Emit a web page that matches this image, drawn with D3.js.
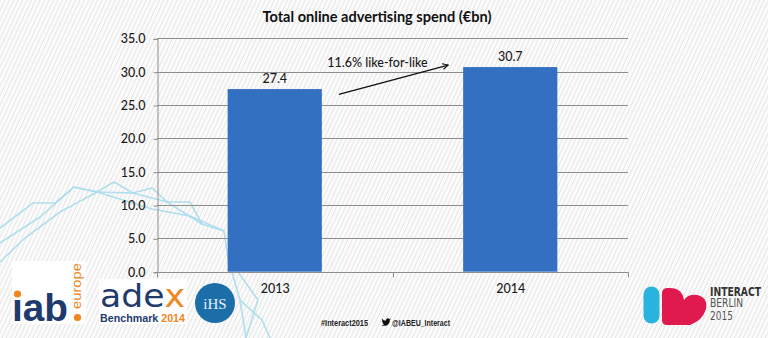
<!DOCTYPE html>
<html>
<head>
<meta charset="utf-8">
<script src="https://cdn.jsdelivr.net/npm/d3@7"></script>
<style>
  html, body { margin: 0; padding: 0; background: #fafafa; }
  svg { display: block; }
</style>
</head>
<body>
<svg id="chart" width="768" height="338"></svg>
<script>
// ---- data ----
const categories = ["2013", "2014"];
const values = [27.4, 30.7];
const yTicks = [0, 5, 10, 15, 20, 25, 30, 35];
const yTickLabels = ["0.0", "5.0", "10.0", "15.0", "20.0", "25.0", "30.0", "35.0"];
const title = "Total online advertising spend (€bn)";
const annotationText = "11.6% like-for-like";
const arrowValues = [26.6, 31.0];
const footerTexts = ["#Interact2015", "@IABEU_Interact"];

// ---- layout ----
const W = 768, H = 338;
const plot = { left: 157, right: 628, top: 38.4, bottom: 271.7 };
const svg = d3.select("#chart");
const FONT = "Lato, 'Open Sans', sans-serif";

// background hatch
const defs = svg.append("defs");
const pat = defs.append("pattern")
  .attr("id", "hatch").attr("patternUnits", "userSpaceOnUse")
  .attr("width", 4).attr("height", 4)
  .attr("patternTransform", "rotate(25)");
pat.append("rect").attr("width", 4).attr("height", 4).attr("fill", "#fbfbfb");
pat.append("line").attr("x1", 0.5).attr("y1", 0).attr("x2", 0.5).attr("y2", 4)
  .attr("stroke", "#e6e6e6").attr("stroke-width", 1);
svg.append("rect").attr("width", W).attr("height", H).attr("fill", "url(#hatch)");

// decorative cyan mesh lines
const deco = [
  [[0,228],[33,203],[55,203],[74,187],[97,192],[114,182],[133,193],[152,188],[167,202],[190,202],[202,224],[224,231],[228,258],[240,300],[246,338]],
  [[0,243],[40,217],[74,187],[97,192],[152,209],[190,216],[224,231]],
  [[0,262],[25,238],[60,212],[97,192],[133,193],[167,202],[202,224]],
  [[228,258],[258,300],[246,338]],
  [[240,300],[262,320],[270,338]]
];
const line = d3.line();
svg.append("g").selectAll("path").data(deco).join("path")
  .attr("d", line).attr("fill", "none")
  .attr("stroke", "#a9dcec").attr("stroke-width", 1.6).attr("opacity", 0.9);

// scales
const x = d3.scaleBand().domain(categories)
  .range([plot.left, plot.right]).paddingInner(0.6).paddingOuter(0.3);
const y = d3.scaleLinear().domain([0, 35]).range([plot.bottom, plot.top]);

// gridlines
svg.append("g").selectAll("line").data(yTicks.filter(d => d > 0)).join("line")
  .attr("x1", plot.left).attr("x2", plot.right)
  .attr("y1", d => Math.round(y(d)) + 0.5).attr("y2", d => Math.round(y(d)) + 0.5)
  .attr("stroke", "#8e8e8e").attr("stroke-width", 1);

// y axis
const yAxis = d3.axisLeft(y).tickValues(yTicks)
  .tickFormat((d, i) => yTickLabels[i]).tickSize(4).tickPadding(8);
const gy = svg.append("g").attr("transform", `translate(${plot.left + 0.5},0.5)`).call(yAxis);
gy.select(".domain").attr("stroke", "#8e8e8e");
gy.selectAll(".tick line").attr("stroke", "#8e8e8e");
gy.selectAll("text").attr("font-family", FONT).attr("font-size", 12.5)
  .attr("fill", "#1a1a1a").attr("font-weight", 500);

// bars
svg.append("g").selectAll("rect").data(values).join("rect")
  .attr("x", (d, i) => x(categories[i]))
  .attr("y", d => y(d))
  .attr("width", x.bandwidth())
  .attr("height", d => y(0) - y(d))
  .attr("fill", "#3470c1");

// x axis
const xb = d3.scaleLinear().domain([0, categories.length]).range([plot.left, plot.right]);
const gx = svg.append("g").attr("transform", `translate(0.5,${Math.round(plot.bottom) + 0.5})`);
gx.append("line").attr("x1", plot.left).attr("x2", plot.right)
  .attr("stroke", "#8e8e8e");
gx.selectAll("line.tk").data(d3.range(categories.length + 1)).join("line")
  .attr("class", "tk")
  .attr("x1", d => Math.round(xb(d))).attr("x2", d => Math.round(xb(d)))
  .attr("y1", 0).attr("y2", 5).attr("stroke", "#8e8e8e");
gx.selectAll("text").data(categories).join("text")
  .attr("x", d => x(d) + x.bandwidth() / 2).attr("y", 20)
  .attr("text-anchor", "middle").attr("font-family", FONT)
  .attr("font-size", 12.5).attr("font-weight", 500).attr("fill", "#1a1a1a").text(d => d);

// value labels
svg.append("g").selectAll("text").data(values).join("text")
  .attr("x", (d, i) => x(categories[i]) + x.bandwidth() / 2)
  .attr("y", d => y(d) - 6)
  .attr("text-anchor", "middle").attr("font-family", FONT)
  .attr("font-size", 12.5).attr("font-weight", 500).attr("fill", "#1a1a1a")
  .text(d => d.toFixed(1));

// title
svg.append("text").attr("x", 377).attr("y", 22).attr("text-anchor", "middle")
  .attr("font-family", FONT).attr("font-weight", 700).attr("font-size", 14.5)
  .attr("fill", "#111").attr("textLength", 229).attr("lengthAdjust", "spacingAndGlyphs")
  .text(title);

// annotation arrow
defs.append("marker").attr("id", "arrowhead").attr("viewBox", "0 0 10 10")
  .attr("refX", 9).attr("refY", 5).attr("markerWidth", 7).attr("markerHeight", 7)
  .attr("orient", "auto").attr("markerUnits", "userSpaceOnUse")
  .append("path").attr("d", "M1,1 L9,5 L1,9").attr("fill", "none")
  .attr("stroke", "#111").attr("stroke-width", 1.6);
const ax1 = x(categories[0]) + x.bandwidth() + 17;
const ax2 = x(categories[1]) - 15;
svg.append("line")
  .attr("x1", ax1).attr("y1", y(arrowValues[0]))
  .attr("x2", ax2).attr("y2", y(arrowValues[1]))
  .attr("stroke", "#111").attr("stroke-width", 1.4)
  .attr("marker-end", "url(#arrowhead)");
svg.append("text").attr("x", (plot.left + plot.right) / 2 - 15).attr("y", y(arrowValues[1]) + 2)
  .attr("text-anchor", "middle").attr("font-family", FONT).attr("font-size", 12.5)
  .attr("font-weight", 500).attr("fill", "#1a1a1a").text(annotationText);

// ---- logos ----
const NAVY = "#1f3b6e", ORANGE = "#f0861e";
// iab.europe
const iab = svg.append("g");
iab.append("rect").attr("x", 12).attr("y", 261).attr("width", 74).attr("height", 63).attr("fill", "#fff").attr("opacity", 0.85);
iab.append("text").attr("x", 12).attr("y", 321).attr("font-family", "'Liberation Sans', Arial, sans-serif")
  .attr("font-weight", 700).attr("font-size", 38).attr("fill", NAVY)
  .attr("textLength", 56).attr("lengthAdjust", "spacingAndGlyphs").text("ıab");
iab.append("circle").attr("cx", 17.5).attr("cy", 294).attr("r", 3.6).attr("fill", ORANGE);
iab.append("circle").attr("cx", 77.5).attr("cy", 317.5).attr("r", 3.6).attr("fill", ORANGE);
iab.append("text").attr("transform", "translate(81,309) rotate(-90)")
  .attr("font-family", "'Liberation Sans', Arial, sans-serif").attr("font-size", 13)
  .attr("fill", ORANGE).attr("textLength", 46).attr("lengthAdjust", "spacingAndGlyphs").text("europe");

// adex
const adex = svg.append("g");
adex.append("rect").attr("x", 99).attr("y", 279).attr("width", 88).attr("height", 45).attr("fill", "#fff").attr("opacity", 0.85);
const adexT = adex.append("text").attr("transform", "translate(100,307) scale(1,1.15)")
  .attr("font-family", "'DejaVu Sans', sans-serif").attr("font-size", 27)
  .attr("textLength", 85).attr("lengthAdjust", "spacingAndGlyphs");
adexT.append("tspan").attr("fill", NAVY).text("ade");
adexT.append("tspan").attr("fill", ORANGE).text("x");
const bm = adex.append("text").attr("x", 100).attr("y", 322)
  .attr("font-family", "'Liberation Sans', Arial, sans-serif").attr("font-weight", 700)
  .attr("font-size", 10.5).attr("textLength", 85).attr("lengthAdjust", "spacingAndGlyphs");
bm.append("tspan").attr("fill", NAVY).text("Benchmark ");
bm.append("tspan").attr("fill", ORANGE).text("2014");

// IHS
svg.append("circle").attr("cx", 215).attr("cy", 303).attr("r", 20).attr("fill", "#1c6ea8");
svg.append("text").attr("x", 215).attr("y", 308.5).attr("text-anchor", "middle")
  .attr("font-family", "'Liberation Serif', serif").attr("font-size", 15).attr("fill", "#e6f2fa")
  .text("iHS");

// Footer
svg.append("text").attr("x", 321).attr("y", 325.5)
  .attr("font-family", "'Liberation Sans Narrow', 'Liberation Sans', sans-serif").attr("font-weight", 700)
  .attr("font-size", 8.5).attr("fill", "#222").attr("textLength", 47)
  .attr("lengthAdjust", "spacingAndGlyphs").text(footerTexts[0]);
svg.append("path")
  .attr("transform", "translate(381.5,318.3) scale(0.58)")
  .attr("d", "M16,1.5c-0.6,0.3-1.2,0.4-1.9,0.5c0.7-0.4,1.2-1,1.4-1.8c-0.6,0.4-1.3,0.6-2.1,0.8C12.8,0.4,12,0,11.1,0C9.3,0,7.8,1.5,7.8,3.3c0,0.3,0,0.5,0.1,0.7C5.2,3.9,2.7,2.6,1.1,0.6C0.8,1.1,0.7,1.6,0.7,2.2c0,1.1,0.6,2.1,1.5,2.7C1.6,4.9,1.1,4.8,0.7,4.5c0,1.6,1.1,2.9,2.6,3.2C3,7.8,2.7,7.9,2.4,7.9c-0.2,0-0.4,0-0.6-0.1c0.4,1.3,1.6,2.3,3.1,2.3c-1.1,0.9-2.5,1.4-4.1,1.4c-0.3,0-0.5,0-0.8,0c1.5,0.9,3.2,1.5,5,1.5c6,0,9.3-5,9.3-9.3c0-0.1,0-0.3,0-0.4C15,2.7,15.6,2.1,16,1.5z")
  .attr("fill", "#111");
svg.append("text").attr("x", 392).attr("y", 325.5)
  .attr("font-family", "'Liberation Sans Narrow', 'Liberation Sans', sans-serif").attr("font-weight", 700)
  .attr("font-size", 8.5).attr("fill", "#222").attr("textLength", 58)
  .attr("lengthAdjust", "spacingAndGlyphs").text(footerTexts[1]);

// INTERACT BERLIN 2015
const ib = svg.append("g");
ib.append("rect").attr("x", 643.5).attr("y", 286.5).attr("width", 16).attr("height", 37)
  .attr("rx", 8).attr("fill", "#2ab3df");
ib.append("path")
  .attr("d", "M662,293 Q662,288 668,288 Q682,287 684,300 Q688,294 697,295 Q708,297 706,309 Q703,320 690,325 L667,325 Q662,325 662,320 Z")
  .attr("fill", "#e01a4f");
const IFONT = "'Liberation Sans Narrow', 'DejaVu Sans Condensed', sans-serif";
ib.append("text").attr("transform", "translate(710,296) scale(1,1.2)").attr("font-family", IFONT).attr("font-weight", 700)
  .attr("font-size", 9.5).attr("fill", "#333").attr("textLength", 51)
  .attr("lengthAdjust", "spacingAndGlyphs").text("INTERACT");
ib.append("text").attr("transform", "translate(710,307) scale(1,1.2)").attr("font-family", IFONT)
  .attr("font-size", 9.5).attr("fill", "#555").attr("textLength", 33)
  .attr("lengthAdjust", "spacingAndGlyphs").text("BERLIN");
ib.append("text").attr("transform", "translate(710,320) scale(1,1.2)").attr("font-family", IFONT)
  .attr("font-size", 9.5).attr("fill", "#555").attr("textLength", 23)
  .attr("lengthAdjust", "spacingAndGlyphs").text("2015");
</script>
</body>
</html>
